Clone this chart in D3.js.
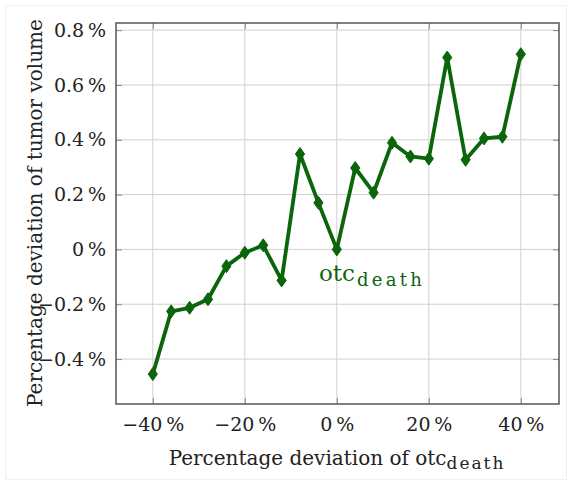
<!DOCTYPE html>
<html>
<head>
<meta charset="utf-8">
<script src="https://cdn.jsdelivr.net/npm/d3@7"></script>
<style>
  body { margin: 0; background: #fff; }
  text { font-family: "DejaVu Serif", "Liberation Serif", serif; fill: #222; }
</style>
</head>
<body>
<div id="chart"></div>
<script>
// percentage deviation of otc_death (x) and of tumor volume (y)
const xValues = [-40, -36, -32, -28, -24, -20, -16, -12, -8, -4, 0, 4, 8, 12, 16, 20, 24, 28, 32, 36, 40];
const yValues = [-0.455, -0.226, -0.213, -0.182, -0.061, -0.012, 0.015, -0.113, 0.348, 0.170, 0.0,
                 0.297, 0.207, 0.389, 0.339, 0.331, 0.700, 0.327, 0.405, 0.411, 0.712];
const xTicks = [-40, -20, 0, 20, 40];
const yTicks = [-0.4, -0.2, 0, 0.2, 0.4, 0.6, 0.8];

function drawChart() {
    var w = 572;
    var h = 485;
    var left = 116, right = 559, top = 23, bottom = 404;
    var green = "#0b650b";
    var serif = "'DejaVu Serif', 'Liberation Serif', serif";

    var svg = d3.select("#chart")
                .append("svg")
                .attr("width", w)
                .attr("height", h);

    // faint page frame
    svg.append("rect")
        .attr("x", 5.5).attr("y", 5.5)
        .attr("width", w - 11).attr("height", h - 11)
        .attr("fill", "none")
        .attr("stroke", "#f0f0f0");

    var xScale = d3.scaleLinear().domain([-48, 48.3]).range([left, right]);
    var yScale = d3.scaleLinear().domain([-0.564, 0.826]).range([bottom, top]);

    // grid
    svg.append("g")
        .selectAll("line")
        .data(xTicks)
        .enter().append("line")
        .attr("x1", d => xScale(d)).attr("x2", d => xScale(d))
        .attr("y1", top).attr("y2", bottom)
        .attr("stroke", "#d0d0d0").attr("stroke-width", 1);

    svg.append("g")
        .selectAll("line")
        .data(yTicks)
        .enter().append("line")
        .attr("x1", left).attr("x2", right)
        .attr("y1", d => yScale(d)).attr("y2", d => yScale(d))
        .attr("stroke", "#d0d0d0").attr("stroke-width", 1);

    // inward ticks on all four sides
    var fmtX = d => (d < 0 ? "\u2212" + Math.abs(d) : d) + "\u2009%";
    var fmtY = d => (d < 0 ? "\u2212" + Math.abs(d).toFixed(1) : (d === 0 ? "0" : d.toFixed(1))) + "\u2009%";

    var xBottom = d3.axisBottom(xScale).tickValues(xTicks).tickSize(-6).tickPadding(14).tickFormat(fmtX);
    var xTop = d3.axisTop(xScale).tickValues(xTicks).tickSize(-6).tickFormat("");
    var yLeft = d3.axisLeft(yScale).tickValues(yTicks).tickSize(-6).tickPadding(10).tickFormat(fmtY);
    var yRight = d3.axisRight(yScale).tickValues(yTicks).tickSize(-6).tickFormat("");

    [[xBottom, "translate(0," + bottom + ")"], [xTop, "translate(0," + top + ")"],
     [yLeft, "translate(" + left + ",0)"], [yRight, "translate(" + right + ",0)"]].forEach(function(a) {
        var g = svg.append("g").attr("transform", a[1]).call(a[0])
            .attr("font-family", serif)
            .attr("font-size", 19);
        g.select(".domain").remove();
        g.selectAll(".tick line").attr("stroke", "#888");
        g.selectAll(".tick text").attr("fill", "#222");
    });

    // frame
    svg.append("rect")
        .attr("x", left).attr("y", top)
        .attr("width", right - left).attr("height", bottom - top)
        .attr("fill", "none")
        .attr("stroke", "#555")
        .attr("stroke-width", 1.5);

    // line
    var line = d3.line()
        .x((d, i) => xScale(xValues[i]))
        .y(d => yScale(d));

    svg.append("path")
        .datum(yValues)
        .attr("fill", "none")
        .attr("stroke", green)
        .attr("stroke-width", 3.8)
        .attr("stroke-linejoin", "round")
        .attr("d", line);

    // diamond markers
    svg.append("g")
        .selectAll("path")
        .data(yValues)
        .enter().append("path")
        .attr("transform", (d, i) => "translate(" + xScale(xValues[i]) + "," + yScale(d) + ")")
        .attr("d", "M0,-6.5L4.6,0L0,6.5L-4.6,0Z")
        .attr("fill", green)
        .attr("stroke", green)
        .attr("stroke-width", 1);

    // series label
    var lab = svg.append("text")
        .attr("x", 319)
        .attr("y", 281)
        .style("font-size", "23px")
        .style("fill", green);
    lab.append("tspan").text("otc");
    lab.append("tspan").attr("dx", 2).attr("dy", 5).style("font-size", "18px").style("letter-spacing", "3.3px").text("death");

    // x axis label
    var xl = svg.append("text")
        .attr("text-anchor", "middle")
        .attr("x", 337)
        .attr("y", 465)
        .style("font-size", "20px");
    xl.append("tspan").text("Percentage deviation of otc");
    xl.append("tspan").attr("dy", 4).style("font-size", "17px").style("letter-spacing", "2px").text("death");

    // y axis label
    svg.append("text")
        .attr("text-anchor", "middle")
        .attr("transform", "translate(42," + 213 + ") rotate(-90)")
        .style("font-size", "20px")
        .text("Percentage deviation of tumor volume");
}

drawChart();
</script>
</body>
</html>
